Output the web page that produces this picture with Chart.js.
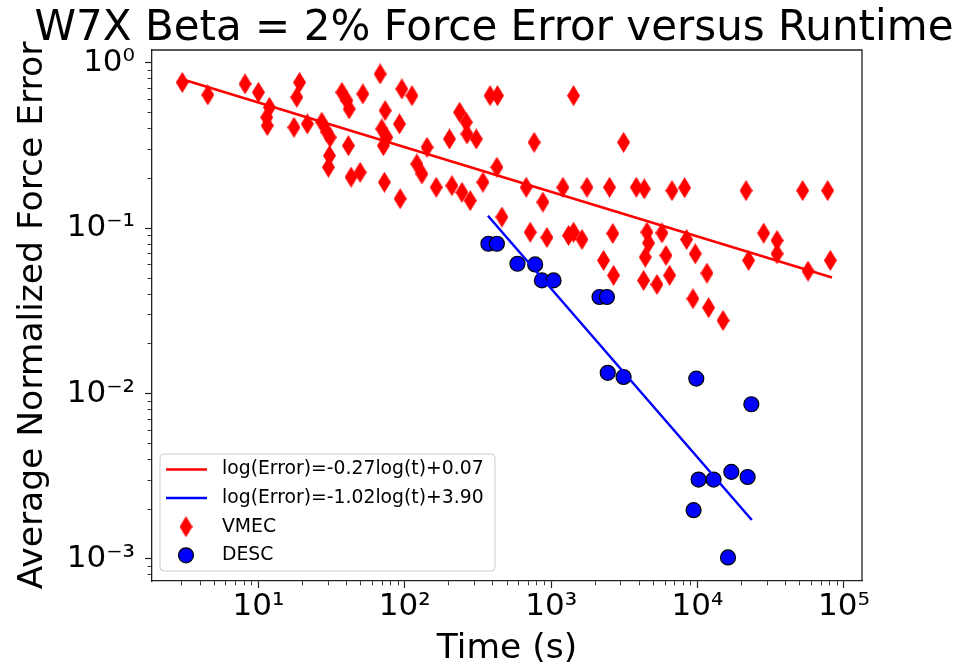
<!DOCTYPE html>
<html>
<head>
<meta charset="utf-8">
<script src="https://cdn.jsdelivr.net/npm/chart.js@4.4.1/dist/chart.umd.min.js"></script>
<style>
  body { margin: 0; background: #fff; }
</style>
</head>
<body>
<canvas id="chart" width="974" height="665"></canvas>
<script>
// values
const vmecTime = [3.02, 4.51, 8.11, 10.0, 11.9, 11.4, 11.5, 19.1, 18.3, 17.5,
  21.6, 27.1, 29.4, 30.9, 30.6, 30.1, 37.2, 40.2, 41.7, 41.2,
  43.0, 49.6, 51.7, 67.9, 73.5, 69.7, 75.4, 71.5, 92.0, 95.5,
  112, 72.6, 93.0, 142, 121, 131, 383, 430, 1423, 237,
  263, 266, 308, 202, 164, 210, 246, 280, 342, 426,
  766, 3126, 676, 879, 1204, 1757, 2507, 3816, 4328, 6694,
  461, 720, 936, 1315, 1423, 1624, 2637, 4515, 5718, 4631,
  2281, 2670, 4397, 6092, 4281, 5288, 6447, 8424, 9661, 9316,
  8162, 21460, 52290, 77500, 11610, 11910, 14940, 22350, 28300, 34950,
  34950, 56930, 80850];
const vmecError = [0.763, 0.641, 0.747, 0.664, 0.539, 0.469, 0.418, 0.763, 0.620, 0.408,
  0.428, 0.438, 0.381, 0.355, 0.275, 0.234, 0.664, 0.592, 0.527, 0.316,
  0.204, 0.218, 0.650, 0.858, 0.515, 0.399, 0.355, 0.316, 0.428, 0.696,
  0.634, 0.190, 0.151, 0.309, 0.245, 0.213, 0.634, 0.634, 0.634, 0.503,
  0.438, 0.372, 0.347, 0.347, 0.177, 0.181, 0.165, 0.147, 0.190, 0.234,
  0.331, 0.331, 0.177, 0.144, 0.177, 0.177, 0.177, 0.177, 0.173, 0.169,
  0.117, 0.0947, 0.088, 0.0905, 0.0947, 0.0856, 0.093, 0.0947, 0.0937, 0.0815,
  0.0639, 0.0519, 0.0669, 0.0685, 0.0484, 0.0457, 0.0519, 0.0856, 0.0701, 0.0375,
  0.176, 0.169, 0.169, 0.169, 0.0535, 0.0331, 0.0277, 0.0639, 0.0934, 0.0844,
  0.0701, 0.0551, 0.0639];
const descTime = [373, 426, 589, 778, 865, 1039, 2142, 2406, 2437, 3126,
  9812, 23330, 10170, 12880, 17020, 22000, 9404, 16160];
const descError = [0.0806, 0.0806, 0.0610, 0.0604, 0.0484, 0.0484, 0.0384, 0.0384, 0.01335, 0.0126,
  0.01232, 0.00862, 0.00302, 0.00302, 0.00336, 0.00313, 0.00197, 0.00102];

// end points of the two fitted lines
const vmecFitTime = [2.9, 83000];
const vmecFitError = [0.805, 0.0504];
const descFitTime = [370, 23500];
const descFitError = [0.119, 0.00172];

const seriesLabels = ['log(Error)=-0.27log(t)+0.07', 'log(Error)=-1.02log(t)+3.90', 'VMEC', 'DESC'];

const xTickValues = [10, 100, 1000, 10000, 100000];
const xTickLabels = ['10\u00B9', '10\u00B2', '10\u00B3', '10\u2074', '10\u2075'];
const yTickValues = [1, 0.1, 0.01, 0.001];
const yTickLabels = ['10\u2070', '10\u207B\u00B9', '10\u207B\u00B2', '10\u207B\u00B3'];

function toPoints(xs, ys) {
  return xs.map((x, i) => ({x: x, y: ys[i]}));
}

function isDecade(v) {
  const l = Math.log10(v);
  return Math.abs(l - Math.round(l)) < 1e-6;
}

function labelFor(values, labels, v) {
  for (let i = 0; i < values.length; i++) {
    if (Math.abs(Math.log10(v) - Math.log10(values[i])) < 1e-6) return labels[i];
  }
  return '';
}

// keep only 1..9 x 10^n ticks strictly inside the range
function niceTicks(scale) {
  scale.ticks = scale.ticks.filter(t => {
    if (t.value <= scale.min || t.value >= scale.max) return false;
    const m = t.value / Math.pow(10, Math.floor(Math.log10(t.value) + 1e-9));
    return Math.abs(m - Math.round(m)) < 1e-6;
  });
}

// thin red diamond like matplotlib's 'd' marker
const diamond = document.createElement('canvas');
diamond.width = 13;
diamond.height = 21;
(function () {
  const c = diamond.getContext('2d');
  c.fillStyle = '#ff0000';
  c.beginPath();
  c.moveTo(6.5, 0);
  c.lineTo(13, 10.5);
  c.lineTo(6.5, 21);
  c.lineTo(0, 10.5);
  c.closePath();
  c.fill();
})();

const frame = {
  id: 'frame',
  afterDatasetsDraw(chart) {
    const {ctx, chartArea: ca} = chart;
    ctx.save();
    ctx.strokeStyle = '#222';
    ctx.lineWidth = 1.3;
    ctx.beginPath();
    ctx.moveTo(ca.left, ca.top);
    ctx.lineTo(ca.right, ca.top);
    ctx.lineTo(ca.right, ca.bottom);
    ctx.stroke();
    ctx.restore();
  }
};

const legendBox = {
  id: 'legendBox',
  afterDraw(chart) {
    const {ctx, chartArea: ca} = chart;
    const w = 335, h = 117;
    const x = ca.left + 8, y = ca.bottom - 10 - h;
    ctx.save();
    ctx.beginPath();
    ctx.roundRect(x, y, w, h, 4);
    ctx.fillStyle = 'rgba(255,255,255,0.8)';
    ctx.fill();
    ctx.strokeStyle = '#cccccc';
    ctx.lineWidth = 1;
    ctx.stroke();
    ctx.font = '18.8px "DejaVu Sans"';
    ctx.textBaseline = 'middle';
    chart.data.datasets.forEach((ds, i) => {
      const cy = y + 15.5 + i * 28.6;
      if (ds.showLine) {
        ctx.strokeStyle = ds.borderColor;
        ctx.lineWidth = ds.borderWidth;
        ctx.beginPath();
        ctx.moveTo(x + 6, cy);
        ctx.lineTo(x + 47, cy);
        ctx.stroke();
      } else if (ds.pointStyle === diamond) {
        ctx.drawImage(diamond, x + 26 - 6.5, cy - 10.5);
      } else {
        ctx.beginPath();
        ctx.arc(x + 26, cy, ds.pointRadius, 0, Math.PI * 2);
        ctx.fillStyle = ds.backgroundColor;
        ctx.fill();
        ctx.strokeStyle = ds.borderColor;
        ctx.lineWidth = ds.borderWidth;
        ctx.stroke();
      }
      ctx.fillStyle = '#000';
      ctx.fillText(ds.label, x + 62, cy);
    });
    ctx.restore();
  }
};

new Chart(document.getElementById('chart'), {
  type: 'scatter',
  data: {
    datasets: [
      {
        label: seriesLabels[0],
        data: toPoints(vmecFitTime, vmecFitError),
        showLine: true,
        borderColor: '#ff0000',
        borderWidth: 2.5,
        pointRadius: 0
      },
      {
        label: seriesLabels[1],
        data: toPoints(descFitTime, descFitError),
        showLine: true,
        borderColor: '#0000ff',
        borderWidth: 2.5,
        pointRadius: 0
      },
      {
        label: seriesLabels[2],
        data: toPoints(vmecTime, vmecError),
        pointStyle: diamond,
        pointRadius: 8
      },
      {
        label: seriesLabels[3],
        data: toPoints(descTime, descError),
        pointStyle: 'circle',
        pointRadius: 7.5,
        backgroundColor: '#0000ff',
        borderColor: '#000000',
        borderWidth: 1.2
      }
    ]
  },
  options: {
    responsive: false,
    animation: false,
    events: [],
    layout: {padding: {left: 14, right: 0, top: 0, bottom: 0}},
    plugins: {
      legend: {display: false},
      tooltip: {enabled: false},
      title: {
        display: true,
        text: 'W7X Beta = 2% Force Error versus Runtime',
        color: '#000',
        font: {family: 'DejaVu Sans', size: 42, weight: 'normal', lineHeight: 1.0},
        padding: {top: 8, bottom: 0}
      }
    },
    scales: {
      x: {
        type: 'logarithmic',
        min: 1.876,
        max: 133000,
        afterBuildTicks: niceTicks,
        afterFit(s) { s.height = 84; s.paddingLeft = 0; s.paddingRight = 0; },
        border: {display: true, color: '#222', width: 1.3},
        grid: {
          display: true,
          drawOnChartArea: false,
          drawTicks: true,
          tickLength: 7,
          tickColor: '#222',
          tickWidth: c => isDecade(c.tick.value) ? 1.2 : 0.9,
          tickBorderDash: c => isDecade(c.tick.value) ? [] : [4, 20],
          tickBorderDashOffset: 0
        },
        ticks: {
          autoSkip: false,
          maxRotation: 0,
          padding: 0,
          color: '#000',
          font: {family: 'DejaVu Sans', size: 31},
          callback: v => labelFor(xTickValues, xTickLabels, v)
        },
        title: {
          display: true,
          text: 'Time (s)',
          color: '#000',
          font: {family: 'DejaVu Sans', size: 34.5, lineHeight: 0.9},
          padding: {top: 0, bottom: 0}
        }
      },
      y: {
        type: 'logarithmic',
        min: 0.000735,
        max: 1.198,
        afterBuildTicks: niceTicks,
        afterFit(s) { s.width = 138; s.paddingTop = 0; s.paddingBottom = 0; },
        border: {display: true, color: '#222', width: 1.3},
        grid: {
          display: true,
          drawOnChartArea: false,
          drawTicks: true,
          tickLength: 7,
          tickColor: '#222',
          tickWidth: c => isDecade(c.tick.value) ? 1.2 : 0.9,
          tickBorderDash: c => isDecade(c.tick.value) ? [] : [4, 2.4],
          tickBorderDashOffset: c => isDecade(c.tick.value) ? 0 : 4
        },
        ticks: {
          autoSkip: false,
          padding: 10,
          color: '#000',
          font: {family: 'DejaVu Sans', size: 31},
          callback: v => labelFor(yTickValues, yTickLabels, v)
        },
        title: {
          display: true,
          text: 'Average Normalized Force Error',
          color: '#000',
          font: {family: 'DejaVu Sans', size: 34.5, lineHeight: 1.0},
          padding: {top: 2, bottom: 0}
        }
      },
      y2: {
        type: 'linear',
        position: 'right',
        display: true,
        afterFit(s) { s.width = 112; s.paddingTop = 0; s.paddingBottom = 0; },
        grid: {display: false},
        border: {display: false},
        ticks: {display: false}
      }
    }
  },
  plugins: [frame, legendBox]
});
</script>
</body>
</html>
